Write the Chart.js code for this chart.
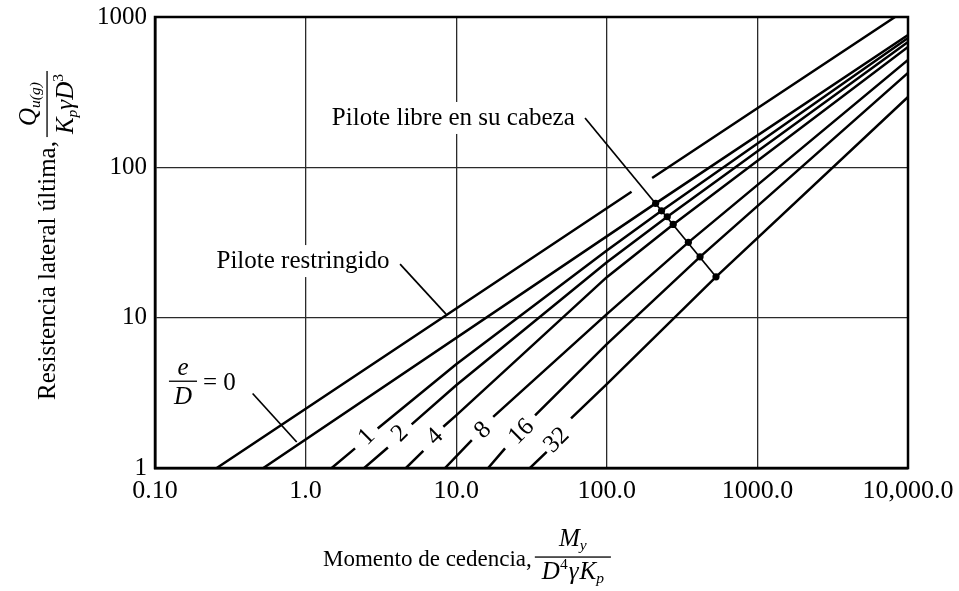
<!DOCTYPE html>
<html>
<head>
<meta charset="utf-8">
<script src="https://cdn.jsdelivr.net/npm/chart.js@4.4.0/dist/chart.umd.min.js"></script>
<style>
  html, body { margin: 0; padding: 0; background: #fff; }
</style>
</head>
<body>
<canvas id="grafica" width="959" height="591"></canvas>
<script>
// Ejes logarítmicos
const xTicks = [0.1, 1, 10, 100, 1000, 10000];
const xTickLabels = ['0.10', '1.0', '10.0', '100.0', '1000.0', '10,000.0'];
const yTicks = [1, 10, 100, 1000];
const yTickLabels = ['1', '10', '100', '1000'];

// Pilote libre en su cabeza: una curva por cada e/D
const eD = ['0', '1', '2', '4', '8', '16', '32'];
// tramo inferior de cada curva (null = corte donde va el número)
const tramoX = [
  [0.524],
  [1.49, 2.13, null, 3.01, 10, 100],
  [2.45, 3.52, null, 5.06, 10, 100],
  [4.64, 6.05, null, 8.21, 10, 100],
  [8.43, 12.7, null, 17.6, 100],
  [16.3, 21.1, null, 33.4, 100],
  [30.9, 39.9, null, 57.9, 100]
];
const tramoY = [
  [1],
  [1, 1.35, null, 1.83, 4.90, 28.0],
  [1, 1.37, null, 1.95, 3.55, 23.4],
  [1, 1.30, null, 1.88, 2.24, 18.6],
  [1, 1.53, null, 2.19, 10.55],
  [1, 1.35, null, 2.24, 6.66],
  [1, 1.28, null, 2.14, 3.61]
];
// puntos marcados sobre cada curva
const puntoX = [211, 231, 252, 276, 348, 416, 531];
const puntoY = [57.6, 51.4, 46.9, 41.7, 31.7, 25.4, 18.7];
// valor de cada curva en el borde derecho (x = 10,000)
const finX = 10000;
const finY = [760, 726, 683, 632, 518, 425, 294];

// Pilote restringido
const restringidoX = [0.257, 146, null, 200, 8200];
const restringidoY = [1, 68.8, null, 84.9, 1000];

// líneas de referencia de los rótulos
const guiaLibreX = [71.7, 531];
const guiaLibreY = [213, 18.7];
const guiaRestringidoX = [4.24, 8.56];
const guiaRestringidoY = [22.7, 10.55];
const guiaCeroX = [0.445, 0.873];
const guiaCeroY = [3.13, 1.49];

const SERIF = '"Liberation Serif", "Times New Roman", serif';

function toPoints(xs, ys) {
  // un null corta la línea
  return xs.map((v, i) => v === null
    ? { x: xs[i - 1], y: null }
    : { x: v, y: ys[i] });
}

function setFont(ctx, size, italic) {
  ctx.font = (italic ? 'italic ' : '') + size + 'px ' + SERIF;
}

// texto con subíndices y superíndices
function runsWidth(ctx, runs, size) {
  let w = 0;
  runs.forEach(r => {
    setFont(ctx, r.sub || r.sup ? size * 0.62 : size, r.it);
    w += ctx.measureText(r.t).width + (r.gap || 0);
  });
  return w;
}

function drawRuns(ctx, runs, x, y, size) {
  ctx.textAlign = 'left';
  ctx.textBaseline = 'alphabetic';
  runs.forEach(r => {
    const s = r.sub || r.sup ? size * 0.62 : size;
    const dy = r.sub ? size * 0.18 : r.sup ? -size * 0.38 : 0;
    setFont(ctx, s, r.it);
    ctx.fillText(r.t, x, y + dy);
    x += ctx.measureText(r.t).width + (r.gap || 0);
  });
  return x;
}

function drawFraction(ctx, num, den, x, yBar, size, pad, upOff, downOff) {
  const wn = runsWidth(ctx, num, size);
  const wd = runsWidth(ctx, den, size);
  const w = Math.max(wn, wd) + pad;
  drawRuns(ctx, num, x + (w - wn) / 2, yBar - size * upOff, size);
  drawRuns(ctx, den, x + (w - wd) / 2, yBar + size * downOff, size);
  ctx.fillRect(x, yBar - 0.6, w, 1.3);
  return w;
}

const numX = [{ t: 'M', it: true }, { t: 'y', it: true, sub: true }];
const denX = [{ t: 'D', it: true }, { t: '4', sup: true, gap: 1 }, { t: 'γ', it: true, gap: 1 },
              { t: 'K', it: true }, { t: 'p', it: true, sub: true }];
const numY = [{ t: 'Q', it: true }, { t: 'u(g)', it: true, sub: true }];
const denY = [{ t: 'K', it: true }, { t: 'p', it: true, sub: true }, { t: 'γ', it: true },
              { t: 'D', it: true }, { t: '3', sup: true }];

const datasets = [];

tramoX.forEach((xs, i) => {
  const pts = toPoints(xs, tramoY[i]);
  pts.push({ x: puntoX[i], y: puntoY[i] });
  pts.push({ x: finX, y: finY[i] });
  datasets.push({ label: 'e/D = ' + eD[i], data: pts, borderWidth: 2.5 });
});

datasets.push({ label: 'Pilote restringido', data: toPoints(restringidoX, restringidoY), borderWidth: 2.5 });
datasets.push({ label: 'guía libre', data: toPoints(guiaLibreX, guiaLibreY), borderWidth: 1.7 });
datasets.push({ label: 'guía restringido', data: toPoints(guiaRestringidoX, guiaRestringidoY), borderWidth: 1.7 });
datasets.push({ label: 'guía e/D', data: toPoints(guiaCeroX, guiaCeroY), borderWidth: 1.7 });
datasets.push({
  label: 'puntos',
  data: toPoints(puntoX, puntoY),
  showLine: false,
  pointRadius: 3.6,
  pointBackgroundColor: '#000',
  pointBorderWidth: 0
});

// rótulos dentro del área de la gráfica
const rotulos = {
  id: 'rotulos',
  beforeDatasetsDraw(chart) {
    const { ctx, scales: { x, y } } = chart;
    const px = v => x.getPixelForValue(v);
    const py = v => y.getPixelForValue(v);
    ctx.save();

    // textos con fondo blanco sobre la cuadrícula
    [['Pilote restringido', 0.96, 23.8], ['Pilote libre en su cabeza', 9.57, 213]].forEach(([t, vx, vy]) => {
      setFont(ctx, 25, false);
      const w = ctx.measureText(t).width;
      const cx = px(vx), cy = py(vy);
      ctx.fillStyle = '#fff';
      ctx.fillRect(cx - w / 2 - 3, cy - 16, w + 6, 32);
      ctx.fillStyle = '#000';
      ctx.textAlign = 'center';
      ctx.textBaseline = 'middle';
      ctx.fillText(t, cx, cy);
    });

    // números de e/D girados a lo largo de las curvas
    const posX = [2.55, 4.24, 7.23, 15.1, 27.2, 46.5];
    const posY = [1.61, 1.69, 1.61, 1.78, 1.74, 1.53];
    setFont(ctx, 25, false);
    ctx.textAlign = 'center';
    ctx.textBaseline = 'middle';
    eD.slice(1).forEach((t, i) => {
      ctx.save();
      ctx.translate(px(posX[i]), py(posY[i]));
      ctx.rotate(-0.78);
      ctx.fillText(t, 0, 0);
      ctx.restore();
    });

    // e/D = 0
    const bx = px(0.151), by = py(3.78);
    ctx.fillStyle = '#000';
    drawFraction(ctx, [{ t: 'e', it: true }], [{ t: 'D', it: true }], bx - 13, by, 25, 10, 0.25, 0.9);
    setFont(ctx, 25, false);
    ctx.textAlign = 'left';
    ctx.textBaseline = 'alphabetic';
    ctx.fillText('= 0', bx + 21, by + 9);

    ctx.restore();
  }
};

// marco superior y derecho, y títulos de los ejes
const marco = {
  id: 'marco',
  afterDraw(chart) {
    const { ctx, chartArea: a } = chart;
    ctx.save();
    ctx.strokeStyle = '#000';
    ctx.lineWidth = 2.5;
    ctx.strokeRect(a.left, a.top, a.right - a.left, a.bottom - a.top);

    ctx.fillStyle = '#000';
    // eje x
    const sx = 23;
    setFont(ctx, sx, false);
    ctx.textAlign = 'left';
    ctx.textBaseline = 'alphabetic';
    const tx = 'Momento de cedencia,';
    ctx.fillText(tx, 323, 566);
    const wx = ctx.measureText(tx).width;
    drawFraction(ctx, numX, denX, 323 + wx + 3, 557, 25, 14, 0.45, 0.86);

    // eje y (girado)
    const sy = 25;
    ctx.translate(55, 400);
    ctx.rotate(-Math.PI / 2);
    setFont(ctx, sy, false);
    ctx.textAlign = 'left';
    ctx.textBaseline = 'alphabetic';
    const ty = 'Resistencia lateral última,';
    ctx.fillText(ty, 0, 0);
    const wy = ctx.measureText(ty).width;
    drawFraction(ctx, numY, denY, wy + 4, -sy * 0.32, sy, 6, 0.45, 1.02);
    ctx.restore();
  }
};

const tickFont = { family: SERIF, size: 25 };

new Chart(document.getElementById('grafica'), {
  type: 'line',
  data: { datasets },
  options: {
    responsive: false,
    animation: false,
    layout: { padding: { top: 17, right: 51, left: 0, bottom: 0 } },
    plugins: { legend: { display: false }, tooltip: { enabled: false } },
    elements: {
      point: { radius: 0 },
      line: { borderColor: '#000', tension: 0, fill: false }
    },
    datasets: { line: { borderColor: '#000', spanGaps: false } },
    scales: {
      x: {
        type: 'logarithmic',
        min: 0.1,
        max: 10000,
        afterBuildTicks: s => { s.ticks = xTicks.map(v => ({ value: v })); },
        afterFit: s => { s.height = 123; s.paddingLeft = 0; s.paddingRight = 0; },
        ticks: {
          callback: (v, i) => xTickLabels[i],
          font: { family: SERIF, size: 26 },
          color: '#000',
          padding: 8,
          maxRotation: 0,
          autoSkip: false
        },
        grid: { color: '#2a2a2a', lineWidth: 1.3, drawTicks: false },
        border: { color: '#000', width: 2.5 }
      },
      y: {
        type: 'logarithmic',
        min: 1,
        max: 1000,
        afterBuildTicks: s => { s.ticks = yTicks.map(v => ({ value: v })); },
        afterFit: s => { s.width = 155; s.paddingTop = 0; s.paddingBottom = 0; },
        ticks: {
          callback: (v, i) => yTickLabels[i],
          font: tickFont,
          color: '#000',
          padding: 8,
          autoSkip: false
        },
        grid: { color: '#2a2a2a', lineWidth: 1.3, drawTicks: false },
        border: { color: '#000', width: 2.5 }
      }
    }
  },
  plugins: [rotulos, marco]
});
</script>
</body>
</html>
